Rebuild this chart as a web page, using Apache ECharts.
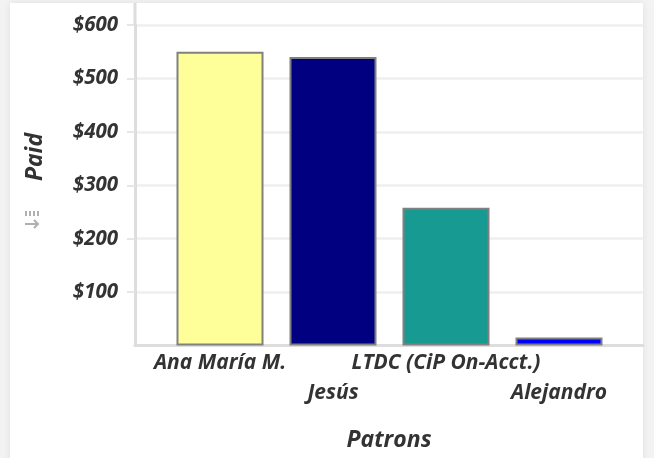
<!DOCTYPE html>
<html>
<head>
<meta charset="utf-8">
<script src="https://cdn.jsdelivr.net/npm/echarts@6/dist/echarts.min.js"></script>
<style>
  html, body { margin: 0; padding: 0; background: #f3f3f3; }
  #chart { width: 654px; height: 458px; }
</style>
</head>
<body>
<div id="chart"></div>
<script>
// Payments received per patron
const patrons = ['Ana María M.', 'Jesús', 'LTDC (CiP On-Acct.)', 'Alejandro'];
const paid = [550, 540, 258, 15];
const barColors = ['#ffff99', '#000080', '#169a92', '#0000ff'];
const yTicks = [0, 100, 200, 300, 400, 500, 600];

const FONT = '"Open Sans", "DejaVu Sans", sans-serif';
const TEXT = '#333333';

const chart = echarts.init(document.getElementById('chart'), null, { renderer: 'canvas' });

const plotTop = 25, plotBottom = 112.5;

chart.setOption({
  animation: false,
  backgroundColor: 'transparent',
  graphic: [
    {
      type: 'rect', z: -10, silent: true,
      shape: { x: 10, y: 3, width: 633, height: 470 },
      style: { fill: '#ffffff', shadowBlur: 8, shadowColor: 'rgba(0,0,0,0.08)' }
    },
    {
      // axis line continues to the panel top
      type: 'line', z: 5, silent: true,
      shape: { x1: 135, y1: 3, x2: 135, y2: plotTop },
      style: { stroke: '#dddddd', lineWidth: 3 }
    },
    {
      type: 'text', silent: true,
      x: 35, y: 157, rotation: Math.PI / 2,
      style: {
        text: 'Paid', fill: TEXT, font: 'italic 700 23px ' + FONT,
        align: 'center', verticalAlign: 'middle'
      }
    },
    {
      // sort glyph under the axis title
      type: 'group', silent: true, x: 24, y: 211,
      children: [
        { type: 'rect', shape: { x: 1, y: 0, width: 2, height: 5 }, style: { fill: '#b0b0b0' } },
        { type: 'rect', shape: { x: 5, y: 0, width: 2, height: 5 }, style: { fill: '#b0b0b0' } },
        { type: 'rect', shape: { x: 9, y: 0, width: 2, height: 5 }, style: { fill: '#b0b0b0' } },
        { type: 'rect', shape: { x: 13, y: 0, width: 2, height: 5 }, style: { fill: '#b0b0b0' } },
        { type: 'line', shape: { x1: 1, y1: 13, x2: 14, y2: 13 }, style: { stroke: '#b0b0b0', lineWidth: 2 } },
        { type: 'polyline', shape: { points: [[10, 9], [14, 13], [10, 17]] }, style: { stroke: '#b0b0b0', lineWidth: 2, fill: null } }
      ]
    },
    {
      type: 'text', silent: true,
      x: 389, y: 440,
      style: {
        text: 'Patrons', fill: TEXT, font: 'italic 700 23px ' + FONT,
        align: 'center', verticalAlign: 'middle'
      }
    }
  ],
  grid: [
    { left: 135, right: 11, top: plotTop, bottom: plotBottom },
    { left: 163.5, right: 38.5, top: plotTop, bottom: plotBottom }
  ],
  xAxis: [
    {
      type: 'category', gridIndex: 0, data: [''],
      axisLine: { show: true, lineStyle: { color: '#dddddd', width: 3 } },
      axisTick: { show: false }, axisLabel: { show: false }, splitLine: { show: false }
    },
    {
      type: 'category', gridIndex: 1, data: patrons,
      axisLine: { show: false }, axisTick: { show: false },
      axisLabel: {
        interval: 0, margin: 3, color: TEXT,
        fontFamily: FONT, fontStyle: 'italic', fontWeight: 700, fontSize: 21,
        lineHeight: 30,
        formatter: (v, i) => (i % 2 === 1 ? '\n' + v : v)
      }
    }
  ],
  yAxis: [
    {
      type: 'value', gridIndex: 0, min: yTicks[0], max: yTicks[yTicks.length - 1], interval: 100,
      axisLine: { show: true, lineStyle: { color: '#dddddd', width: 3 } },
      axisTick: { show: true, length: 8, lineStyle: { color: '#e6e6e6', width: 2 } },
      axisLabel: {
        showMinLabel: false, margin: 17, color: TEXT,
        fontFamily: FONT, fontStyle: 'italic', fontWeight: 700, fontSize: 20.5,
        formatter: v => '$' + v
      },
      splitLine: { show: true, lineStyle: { color: '#efefef', width: 2.5 } }
    },
    {
      type: 'value', gridIndex: 1, min: yTicks[0], max: yTicks[yTicks.length - 1],
      show: false, splitLine: { show: false }
    }
  ],
  series: [
    {
      type: 'bar', xAxisIndex: 1, yAxisIndex: 1, barWidth: '77%',
      data: paid.map((v, i) => ({
        value: v,
        itemStyle: { color: barColors[i], borderColor: '#808080', borderWidth: 2 }
      }))
    }
  ]
});
</script>
</body>
</html>
